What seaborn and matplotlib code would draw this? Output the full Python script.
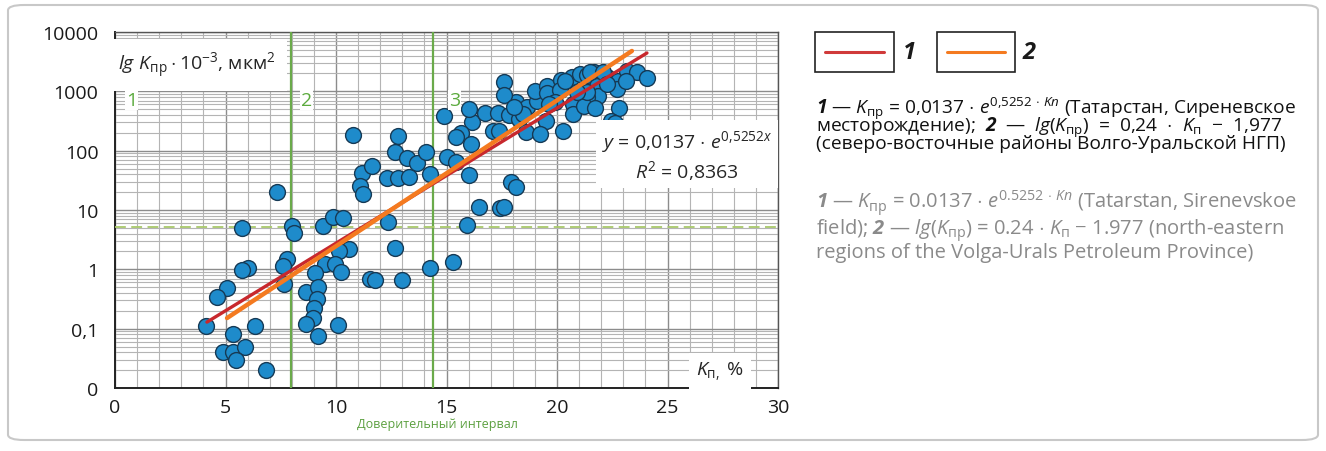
import matplotlib
matplotlib.use('Agg')
import pandas as pd
import matplotlib.pyplot as plt
import seaborn as sns
from matplotlib.ticker import FixedLocator, MultipleLocator, LogLocator, NullFormatter
from matplotlib.patches import Rectangle, FancyBboxPatch
from matplotlib.lines import Line2D

# porosity Kп, %
kp = [7.33, 5.75, 8.01, 8.10, 9.41, 9.86, 10.32, 11.18, 11.09, 11.22,
      10.59, 10.14, 9.50, 9.95, 10.23, 9.05, 7.78, 7.60, 7.65, 6.02,
      5.75, 5.07, 4.62, 4.12, 6.33, 5.34, 4.89, 5.34, 5.88, 5.48,
      6.83, 8.64, 9.19, 9.14, 9.00, 8.96, 8.64, 9.19, 10.09, 11.54,
      10.77, 12.81, 12.67, 13.21, 13.67, 14.07, 14.89, 16.15, 16.02, 16.74,
      15.66, 15.43, 16.11, 15.02, 15.43, 14.25, 16.02, 12.31, 12.81, 13.30,
      11.63, 12.35, 16.47, 15.93, 12.67, 11.76, 12.99, 14.25, 15.29, 17.33,
      17.83, 18.14, 17.60, 17.60, 17.10, 17.38, 18.28, 18.64, 19.10, 19.00,
      19.55, 19.55, 20.18, 20.14, 20.68, 21.04, 21.36, 21.67, 22.26, 22.53,
      22.76, 22.71, 21.81, 21.86, 21.36, 20.72, 20.72, 21.22, 21.72, 19.91,
      19.50, 18.60, 19.23, 20.27, 22.81, 22.44, 22.62, 17.92, 18.14, 17.42,
      17.60, 19.64, 18.46, 18.05, 20.36, 21.49, 22.08, 23.17, 23.62, 24.07,
      23.12, 22.26, 21.36, 20.90]

# permeability Kпр * 10^-3, мкм2
kpr = [20, 5.0, 5.4, 4.1, 5.4, 7.6, 7.3, 42, 25, 18.6,
       2.2, 2.0, 1.23, 1.23, 0.90, 0.87, 1.5, 1.14, 0.57, 1.05,
       0.97, 0.48, 0.34, 0.11, 0.11, 0.081, 0.040, 0.040, 0.049, 0.030,
       0.020, 0.41, 0.50, 0.32, 0.22, 0.15, 0.12, 0.075, 0.115, 0.69,
       184, 177, 95, 75, 62, 95, 384, 304, 504, 431,
       199, 170, 129, 78, 64, 40, 39, 35, 35, 36,
       55, 6.3, 11.2, 5.6, 2.3, 0.66, 0.66, 1.05, 1.33, 431,
       399, 661, 1440, 867, 214, 214, 342, 544, 687, 1010,
       1230, 937, 1550, 1050, 1740, 1960, 1880, 2120, 1740, 1380,
       1490, 1090, 1230, 834, 802, 611, 415, 566, 524, 661,
       316, 206, 191, 214, 524, 316, 292, 30, 24, 10.8,
       11.2, 611, 415, 544, 1490, 2120, 2120, 2200, 2120, 1680,
       1490, 1330, 975, 975]

# trend lines: end points
trend1_kp = [4.16, 24.07]
trend1_kpr = [0.129, 4430]
trend2_kp = [5.07, 23.39]
trend2_kpr = [0.151, 4790]

x_ticks = [0, 5, 10, 15, 20, 25, 30]
y_ticks = [0.01, 0.1, 1, 10, 100, 1000, 10000]
y_labels = ['0', '0,1', '1', '10', '100', '1000', '10000']

zone_bounds = [7.95, 14.4]
zone_names = ['1', '2', '3']
zone_name_x = [0.5, 8.4, 15.1]
zone_name_y = 714
threshold = 5.1

sns.set_style('white')
plt.rcParams['font.family'] = ['Open Sans', 'DejaVu Sans']
plt.rcParams['mathtext.fontset'] = 'custom'
plt.rcParams['mathtext.rm'] = 'Open Sans'
plt.rcParams['mathtext.it'] = 'Open Sans:italic'
plt.rcParams['mathtext.bf'] = 'Open Sans:bold'
plt.rcParams['mathtext.bfit'] = 'Open Sans:italic:bold'

W, H = 1326, 452
fig = plt.figure(figsize=(W / 100, H / 100), dpi=100)

def fx(px):
    return px / W

def fy(py):
    return 1 - py / H

# rounded frame round the whole figure
fig.patches.append(FancyBboxPatch((fx(8), fy(441)), fx(1310), 435 / H,
                                  boxstyle='round,pad=0,rounding_size=0.012',
                                  transform=fig.transFigure, fill=False,
                                  edgecolor='#c8c8c8', linewidth=1.5))

ax = fig.add_axes([fx(115), fy(389), fx(778) - fx(115), fy(33) - fy(389)])

df = pd.DataFrame({'kp': kp, 'kpr': kpr})
sns.scatterplot(data=df, x='kp', y='kpr', ax=ax, s=130, color='#1e8bcb',
                edgecolor='#163a55', linewidth=1.0, zorder=4)

t1 = pd.DataFrame({'kp': trend1_kp, 'kpr': trend1_kpr})
t2 = pd.DataFrame({'kp': trend2_kp, 'kpr': trend2_kpr})
sns.lineplot(data=t1, x='kp', y='kpr', ax=ax, color='#c8282d', linewidth=2.4, zorder=5)
sns.lineplot(data=t2, x='kp', y='kpr', ax=ax, color='#f47a20', linewidth=3.2, zorder=6)

ax.set_yscale('log')
ax.set_xlim(0, 30)
ax.set_ylim(0.01, 10000)

ax.xaxis.set_major_locator(FixedLocator(x_ticks))
ax.xaxis.set_minor_locator(MultipleLocator(1))
ax.yaxis.set_major_locator(FixedLocator(y_ticks))
ax.yaxis.set_minor_locator(LogLocator(base=10, subs=range(2, 10), numticks=20))
ax.yaxis.set_minor_formatter(NullFormatter())
ax.set_yticklabels(y_labels)
ax.tick_params(axis='both', which='major', labelsize=14, length=4, color='#333333',
               labelcolor='#1a1a1a')
ax.tick_params(axis='x', which='major', pad=3)
ax.tick_params(axis='y', which='major', pad=8)
ax.tick_params(which='minor', length=0)
ax.grid(True, which='major', color='#8c8c8c', linewidth=1.0)
ax.grid(True, which='minor', color='#b4b4b4', linewidth=0.8)
ax.set_axisbelow(True)
ax.set_xlabel('')
ax.set_ylabel('')
for side in ['left', 'bottom']:
    ax.spines[side].set_color('#222222')
    ax.spines[side].set_linewidth(1.4)
for side in ['top', 'right']:
    ax.spines[side].set_color('#555555')
    ax.spines[side].set_linewidth(1.0)

# zone boundaries and threshold
for b in zone_bounds:
    ax.axvline(b, color='#6aaa4a', linewidth=1.6, zorder=3)
ax.axhline(threshold, color='#a8c86a', linewidth=1.3, linestyle=(0, (6, 3)), zorder=3)
for name, zx in zip(zone_names, zone_name_x):
    ax.text(zx, zone_name_y, name, color='#5cab3e', fontsize=14, ha='left', va='center',
            zorder=7, bbox=dict(facecolor='white', edgecolor='none', pad=0.5))

# axis captions inside white boxes
fig.text(fx(197), fy(66), r'$\mathit{lg\ K}_{\mathrm{пр}}\cdot 10^{-3}$, мкм$^{2}$',
         fontsize=14, ha='center', va='center', zorder=10,
         bbox=dict(facecolor='white', edgecolor='none', boxstyle='square,pad=0.55'))
fig.text(fx(687), fy(156),
         r'$\mathit{y}$ = 0,0137 $\cdot$ $\mathit{e}^{0{,}5252\mathit{x}}$' + '\n' +
         r'$\mathit{R}^{2}$ = 0,8363',
         fontsize=14, ha='center', va='center', linespacing=1.25, zorder=10,
         bbox=dict(facecolor='white', edgecolor='none', boxstyle='square,pad=0.3'))
fig.text(fx(720), fy(372), r'$\mathit{K}_{\mathrm{п,}}$ %', fontsize=14,
         ha='center', va='center', zorder=10,
         bbox=dict(facecolor='white', edgecolor='none', boxstyle='square,pad=0.35'))
fig.text(fx(437), fy(425), 'Доверительный интервал', fontsize=9, color='#5ca040',
         ha='center', va='center')

# legend boxes on the right
for left, right, color, label, lx in [(815, 894, '#d03a3a', '1', 903),
                                      (937, 1015, '#f47a20', '2', 1023)]:
    fig.patches.append(Rectangle((fx(left), fy(73)), fx(right) - fx(left), fy(33) - fy(73),
                                 transform=fig.transFigure, fill=False,
                                 edgecolor='#222222', linewidth=1.2))
    fig.lines.append(Line2D([fx(left + 10), fx(right - 10)], [fy(53), fy(53)],
                            transform=fig.transFigure, color=color, linewidth=2.2))
    fig.text(fx(lx), fy(53), label, fontsize=17, fontweight='bold', fontstyle='italic',
             ha='left', va='center', color='#1a1a1a')

black_lines = [
    r'$\mathbfit{1}$ — $\mathit{K}_{\mathrm{пр}}$ = 0,0137 $\cdot$ $\mathit{e}^{0{,}5252\,\cdot\,\mathit{Kп}}$ (Татарстан, Сиреневское',
    r'месторождение);  $\mathbfit{2}$  —  $\mathit{lg}$($\mathit{K}_{\mathrm{пр}}$)  =  0,24  $\cdot$  $\mathit{K}_{\mathrm{п}}$  −  1,977',
    '(северо-восточные районы Волго-Уральской НГП)',
]
gray_lines = [
    r'$\mathbfit{1}$ — $\mathit{K}_{\mathrm{пр}}$ = 0.0137 $\cdot$ $\mathit{e}^{0.5252\,\cdot\,\mathit{Kп}}$ (Tatarstan, Sirenevskoe',
    r'field); $\mathbfit{2}$ — $\mathit{lg}$($\mathit{K}_{\mathrm{пр}}$) = 0.24 $\cdot$ $\mathit{K}_{\mathrm{п}}$ − 1.977 (north-eastern',
    'regions of the Volga-Urals Petroleum Province)',
]
# multi-line text with va='baseline' sits on the baseline of its last line
fig.text(fx(816), fy(149), '\n'.join(black_lines), fontsize=13.8, color='#111111',
         ha='left', va='baseline', linespacing=0.64)
fig.text(fx(816), fy(258), '\n'.join(gray_lines), fontsize=14.5, color='#8a8a8a',
         ha='left', va='baseline', linespacing=0.95)

fig.savefig('out.png', dpi=100)
